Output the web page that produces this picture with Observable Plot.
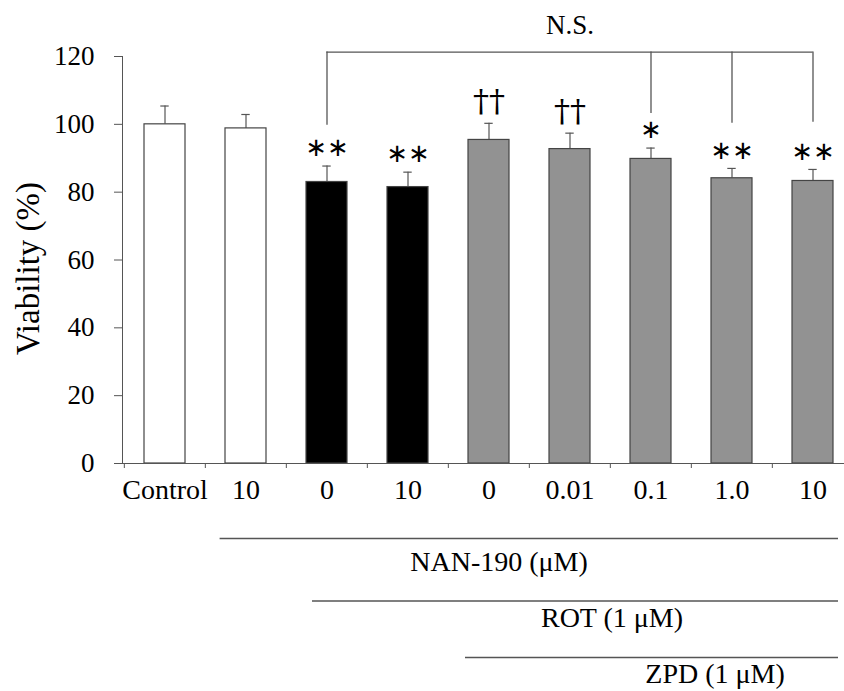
<!DOCTYPE html>
<html>
<head>
<meta charset="utf-8">
<script src="https://cdn.jsdelivr.net/npm/d3@7"></script>
<script src="https://cdn.jsdelivr.net/npm/@observablehq/plot@0.6"></script>
<style>
  html, body { margin: 0; padding: 0; background: white; }
  #chart { width: 844px; height: 691px; }
</style>
</head>
<body>
<div id="chart"></div>
<script>
// ---- data ----
const categories = ["Control", "NAN 10", "ROT", "ROT + NAN 10", "ROT + ZPD", "ROT + ZPD + NAN 0.01", "ROT + ZPD + NAN 0.1", "ROT + ZPD + NAN 1.0", "ROT + ZPD + NAN 10"];
const tickLabels = ["Control", "10", "0", "10", "0", "0.01", "0.1", "1.0", "10"];
const means = [100.0, 98.8, 83.0, 81.5, 95.4, 92.7, 89.8, 84.1, 83.3];
const sds = [5.4, 4.1, 4.7, 4.4, 4.9, 4.7, 3.2, 2.9, 3.4];
const groups = ["no ROT", "no ROT", "ROT", "ROT", "ROT + ZPD", "ROT + ZPD", "ROT + ZPD", "ROT + ZPD", "ROT + ZPD"];
const groupNames = ["no ROT", "ROT", "ROT + ZPD"];
const significance = ["", "", "**", "**", "††", "††", "*", "**", "**"];
const yTicks = [0, 20, 40, 60, 80, 100, 120];

// N.S. bracket (values in %)
const bracketCats = ["ROT", "ROT + ZPD + NAN 0.1", "ROT + ZPD + NAN 1.0", "ROT + ZPD + NAN 10"];
const bracketLow = [99.7, 103.2, 100.3, 100.6];
const bracketTop = 121.3;

const rows = categories.map((c, i) => ({cat: c, label: tickLabels[i], mean: means[i], sd: sds[i], group: groups[i], sig: significance[i]}));
const labelOf = new Map(categories.map((c, i) => [c, tickLabels[i]]));
const bracket = bracketCats.map((c, i) => ({cat: c, low: bracketLow[i], top: bracketTop}));

const serif = "'Liberation Serif', 'Times New Roman', serif";
const lineColor = "#555";

const chart = Plot.plot({
  width: 844,
  height: 691,
  marginLeft: 122,
  marginRight: 0,
  marginTop: 56,
  marginBottom: 228,
  style: {fontFamily: serif, fontSize: "28px", background: "white", color: "black", overflow: "visible"},
  x: {type: "band", domain: categories, range: [122, 854], paddingInner: 0.5, paddingOuter: 0.25},
  y: {domain: [0, 120]},
  color: {type: "ordinal", domain: groupNames, range: ["white", "black", "#929292"]},
  marks: [
    // axes
    Plot.frame({anchor: "left", stroke: lineColor}),
    Plot.axisY({ticks: yTicks, tickSize: 8, tickPadding: 20, fontSize: 27, label: null, stroke: lineColor, fill: "black"}),
    Plot.text(["Viability (%)"], {frameAnchor: "left", textAnchor: "middle", dx: -94, dy: 8.5, rotate: -90, fontSize: 33, fill: "black", letterSpacing: "0.8px"}),
    Plot.axisX({tickSize: 0, tickPadding: 16, fontSize: 28, label: null, tickFormat: d => labelOf.get(d), fill: "black"}),
    // category boundary ticks on the x axis
    Plot.ruleX(categories, {x: d => d, y1: 0, y2: 0, insetBottom: -5, dx: -40.67, stroke: lineColor}),
    // error bars (upward only)
    Plot.ruleX(rows, {x: "cat", y1: "mean", y2: d => d.mean + d.sd, stroke: lineColor, strokeWidth: 1.2}),
    Plot.tickY(rows, {x: "cat", y: d => d.mean + d.sd, stroke: lineColor, strokeWidth: 1.2, insetLeft: 16.3, insetRight: 16.3}),
    // bars
    Plot.barY(rows, {x: "cat", y: "mean", fill: "group", stroke: "#444", strokeWidth: 1.2}),
    Plot.ruleY([0], {stroke: lineColor}),
    // significance marks
    Plot.text(rows.filter(d => d.sig.includes("*")), {x: "cat", y: d => d.mean + d.sd, text: d => d.sig.replace(/\*/g, "\u2217"), dy: -18, lineAnchor: "middle", fontFamily: "'DejaVu Sans', sans-serif", fontSize: 26, fill: "black"}),
    Plot.text(rows.filter(d => d.sig.includes("†")), {x: "cat", y: d => d.mean + d.sd, text: "sig", dy: -11, lineAnchor: "bottom", fontFamily: "'DejaVu Serif', serif", fontSize: 32, fill: "black"}),
    // N.S. bracket
    Plot.ruleX(bracket, {x: "cat", y1: "low", y2: "top", stroke: lineColor, strokeWidth: 1.3}),
    Plot.ruleY([bracketTop], {x1: () => bracketCats[0], x2: () => bracketCats[bracketCats.length - 1], insetLeft: 20.33, insetRight: 20.33, stroke: lineColor, strokeWidth: 1.3}),
    Plot.text(["N.S."], {x: () => "ROT + ZPD + NAN 0.01", y: () => bracketTop, dy: -18, lineAnchor: "bottom", fontSize: 27, fill: "black"}),
    // treatment lines below the axis
    Plot.ruleY([0], {x1: () => "NAN 10", x2: () => categories[8], dy: 75, insetLeft: -5.4, insetRight: -5, stroke: lineColor, strokeWidth: 1.6}),
    Plot.text(["NAN-190 (\u03bcM)"], {x: () => "ROT + ZPD", y: () => 0, dx: 10, dy: 107, lineAnchor: "bottom", fontSize: 28, fill: "black"}),
    Plot.ruleY([0], {x1: () => "ROT", x2: () => categories[8], dy: 137.5, insetLeft: 6, insetRight: -5, stroke: lineColor, strokeWidth: 1.6}),
    Plot.text(["ROT (1 \u03bcM)"], {x: () => "ROT + ZPD + NAN 0.01", y: () => 0, dx: 42, dy: 163, lineAnchor: "bottom", fontSize: 28, fill: "black"}),
    Plot.ruleY([0], {x1: () => "ROT + ZPD", x2: () => categories[8], dy: 194, insetLeft: -3, insetRight: -5, stroke: lineColor, strokeWidth: 1.6}),
    Plot.text(["ZPD (1 \u03bcM)"], {x: () => "ROT + ZPD + NAN 1.0", y: () => 0, dx: -17, dy: 219, lineAnchor: "bottom", fontSize: 28, fill: "black"})
  ]
});
document.getElementById("chart").appendChild(chart);
</script>
</body>
</html>
